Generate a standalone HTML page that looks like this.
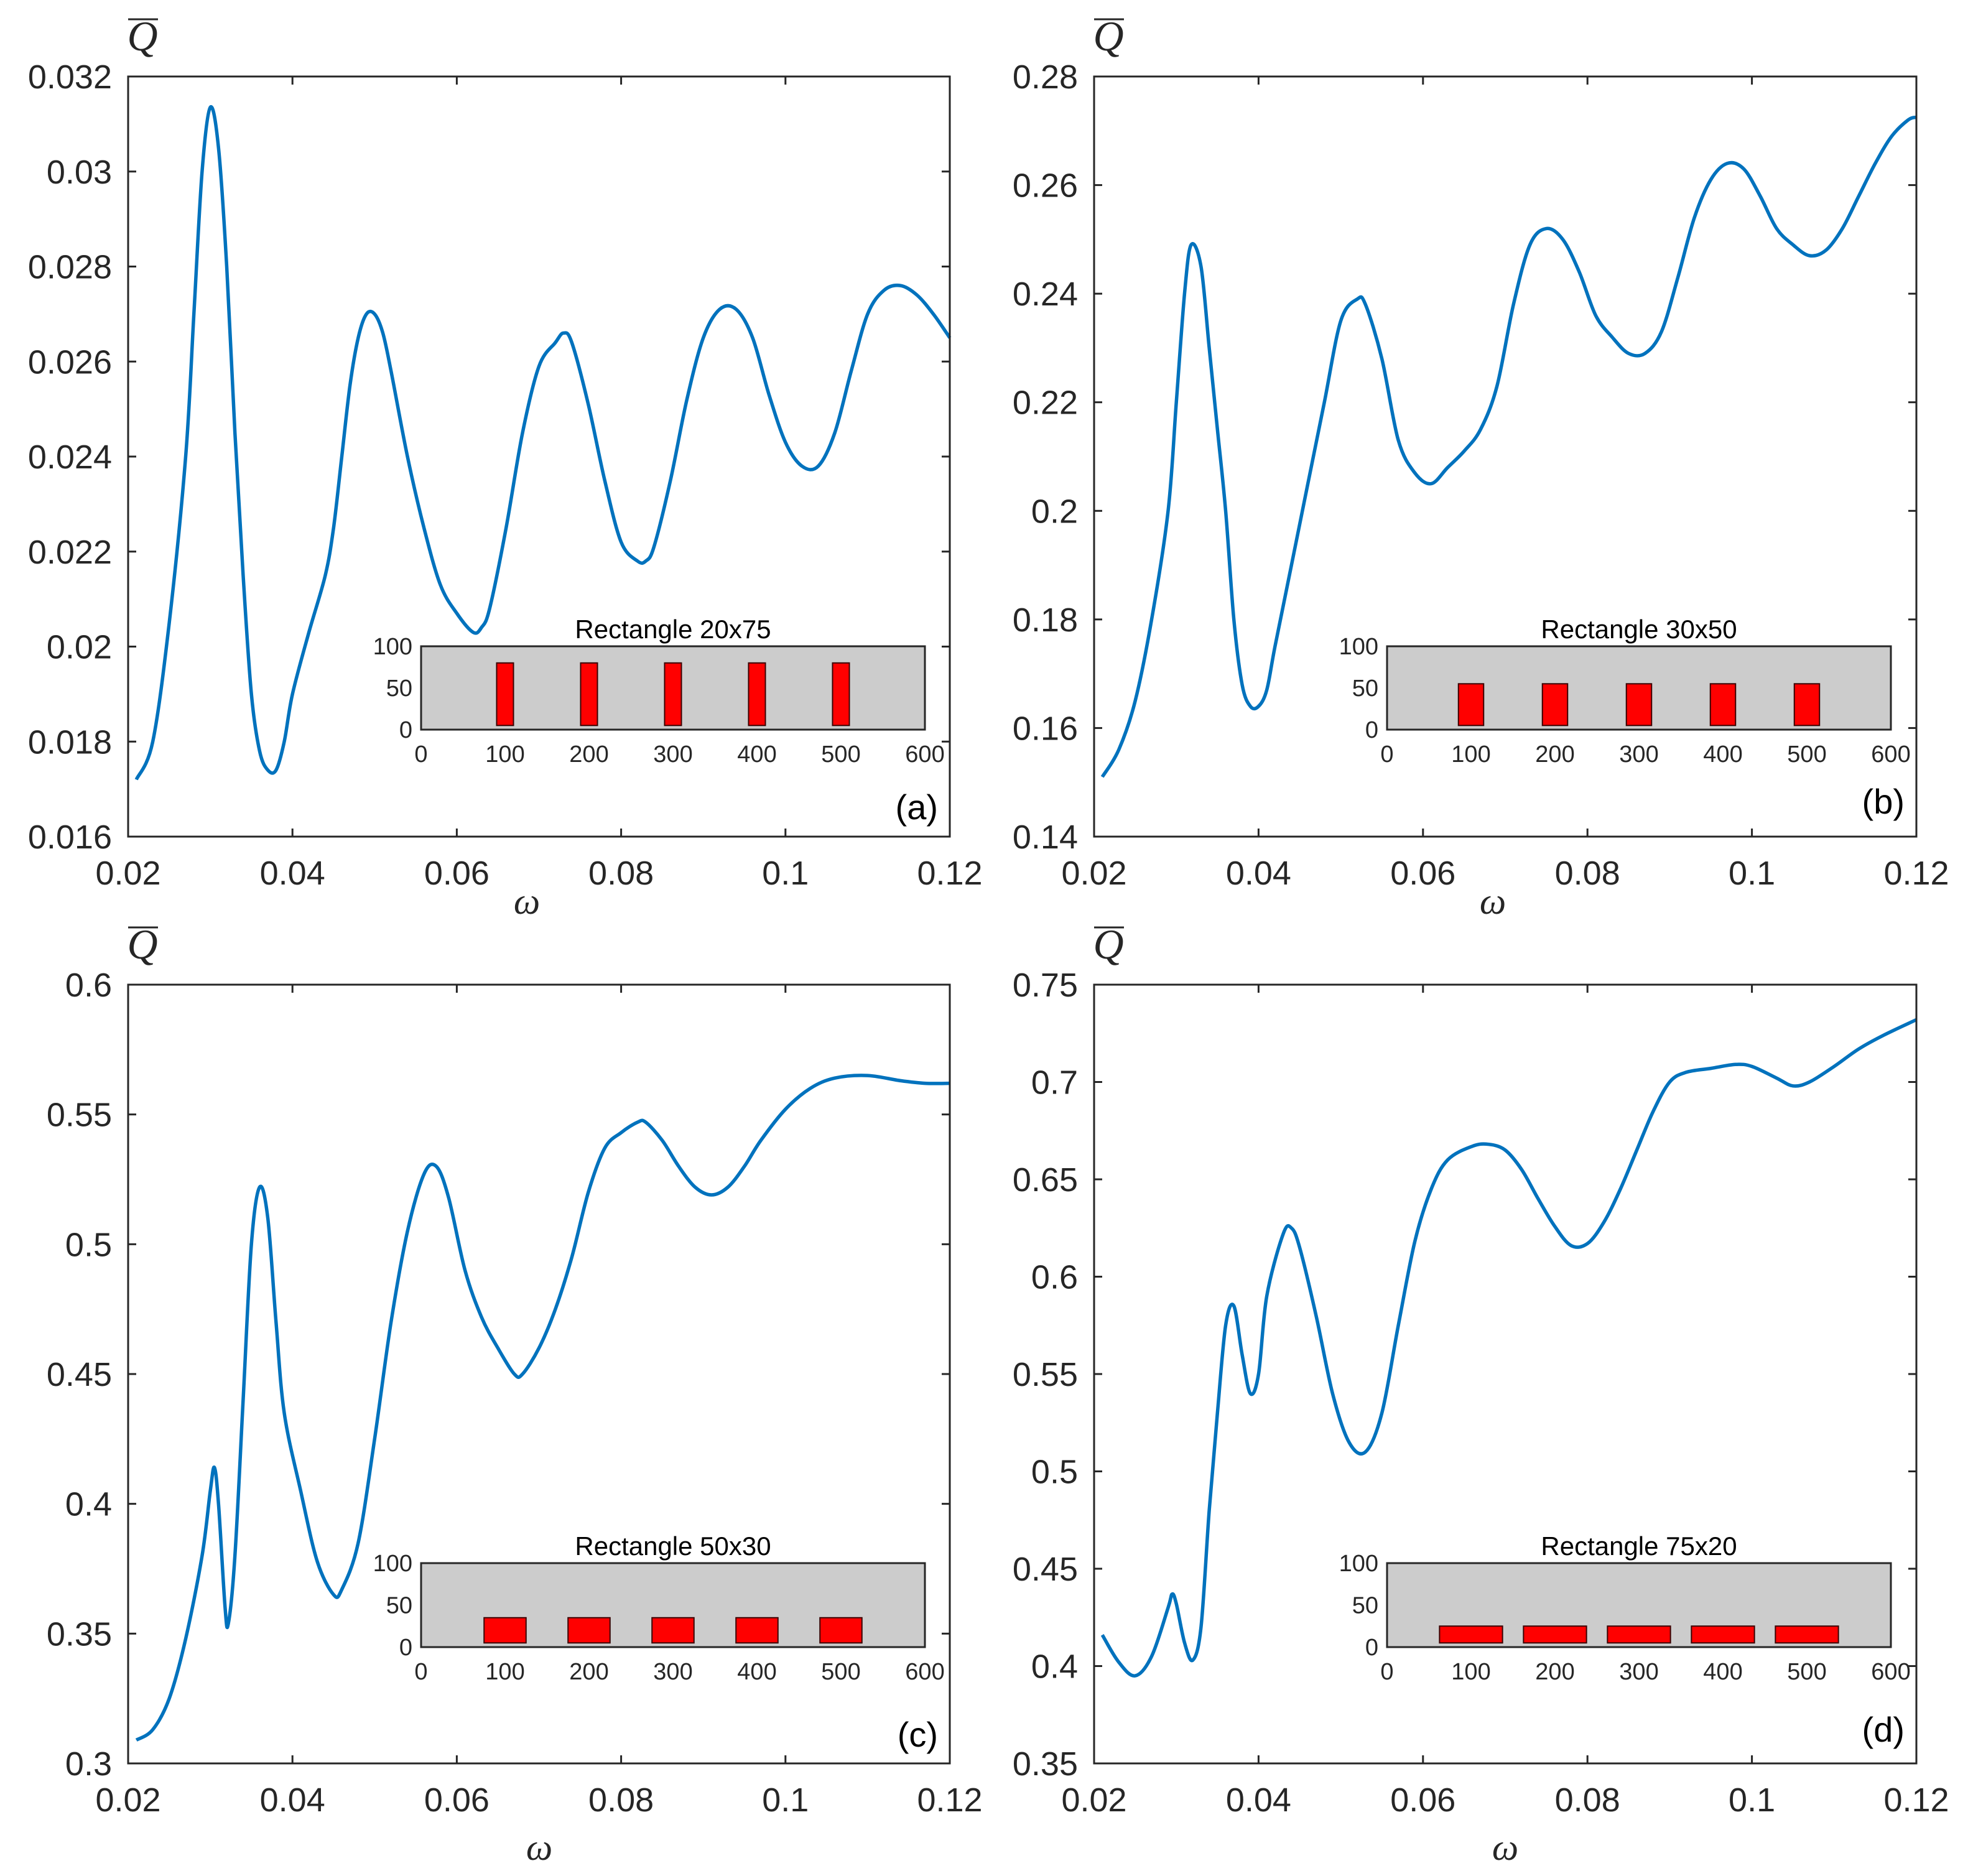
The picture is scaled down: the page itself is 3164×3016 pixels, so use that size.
<!DOCTYPE html>
<html><head><meta charset="utf-8"><style>
html,body{margin:0;padding:0;background:#fff;}
svg{display:block;font-family:"Liberation Sans",Arial,sans-serif;}
</style></head>
<body>
<svg id="fig" width="3164" height="3016" viewBox="0 0 3164 3016" xmlns="http://www.w3.org/2000/svg"></svg>
<script>
// ---- Panel (a) data ----
const omegaA=[0.021,0.023,0.025,0.027,0.028,0.029,0.030,0.031,0.032,0.033,0.034,0.035,0.036,0.037,0.038,0.039,0.040,0.042,0.044,0.045,0.046,0.047,0.048,0.049,0.050,0.051,0.052,0.054,0.056,0.058,0.060,0.062,0.063,0.064,0.066,0.068,0.070,0.072,0.073,0.074,0.076,0.078,0.080,0.082,0.083,0.084,0.086,0.088,0.090,0.092,0.094,0.096,0.098,0.100,0.102,0.104,0.106,0.108,0.110,0.112,0.114,0.116,0.118,0.120];
const qA=[0.0172,0.0180,0.0205,0.0240,0.0270,0.0300,0.03135,0.0305,0.0280,0.0245,0.0215,0.0190,0.0178,0.0174,0.0174,0.0180,0.0190,0.0203,0.0215,0.0225,0.0240,0.0255,0.0265,0.0270,0.0270,0.0266,0.0258,0.0240,0.0225,0.0213,0.0207,0.0203,0.0204,0.0208,0.0225,0.0245,0.0259,0.0264,0.0266,0.0264,0.0251,0.0235,0.0222,0.0218,0.0218,0.0221,0.0235,0.0252,0.0265,0.0271,0.0271,0.0265,0.0253,0.0243,0.0238,0.0238,0.0245,0.0258,0.0270,0.0275,0.0276,0.0274,0.0270,0.0265];
const yTicksA=[0.016,0.018,0.020,0.022,0.024,0.026,0.028,0.030,0.032];
const yLabelsA=["0.016","0.018","0.02","0.022","0.024","0.026","0.028","0.03","0.032"];
// ---- Panel (b) data ----
const omegaB=[0.021,0.023,0.025,0.027,0.029,0.030,0.031,0.0318,0.033,0.034,0.035,0.036,0.037,0.038,0.039,0.040,0.041,0.042,0.044,0.046,0.048,0.050,0.052,0.053,0.055,0.057,0.059,0.061,0.063,0.065,0.067,0.069,0.071,0.073,0.075,0.077,0.079,0.081,0.083,0.085,0.087,0.089,0.091,0.093,0.095,0.097,0.099,0.101,0.103,0.105,0.107,0.109,0.111,0.113,0.115,0.117,0.119,0.120];
const qB=[0.151,0.156,0.165,0.180,0.200,0.220,0.240,0.249,0.245,0.230,0.215,0.200,0.180,0.168,0.164,0.164,0.167,0.175,0.190,0.205,0.220,0.235,0.239,0.238,0.228,0.213,0.207,0.205,0.208,0.211,0.215,0.223,0.238,0.249,0.252,0.250,0.244,0.236,0.232,0.229,0.229,0.233,0.243,0.254,0.261,0.264,0.263,0.258,0.252,0.249,0.247,0.248,0.252,0.258,0.264,0.269,0.272,0.2725];
const yTicksB=[0.14,0.16,0.18,0.20,0.22,0.24,0.26,0.28];
const yLabelsB=["0.14","0.16","0.18","0.2","0.22","0.24","0.26","0.28"];
// ---- Panel (c) data ----
const omegaC=[0.021,0.023,0.025,0.027,0.029,0.030,0.0305,0.031,0.0318,0.0322,0.033,0.034,0.035,0.036,0.037,0.038,0.039,0.041,0.043,0.045,0.046,0.048,0.050,0.052,0.054,0.056,0.0575,0.059,0.061,0.063,0.065,0.067,0.068,0.070,0.072,0.074,0.076,0.078,0.080,0.082,0.083,0.085,0.087,0.089,0.091,0.093,0.095,0.097,0.100,0.103,0.106,0.110,0.114,0.117,0.120];
const qC=[0.309,0.313,0.325,0.348,0.380,0.405,0.414,0.400,0.360,0.354,0.380,0.440,0.500,0.522,0.510,0.470,0.435,0.405,0.378,0.365,0.367,0.385,0.425,0.470,0.505,0.527,0.530,0.518,0.490,0.472,0.460,0.450,0.450,0.460,0.475,0.495,0.520,0.537,0.543,0.547,0.547,0.540,0.530,0.522,0.519,0.522,0.530,0.540,0.552,0.560,0.564,0.565,0.563,0.562,0.562];
const yTicksC=[0.30,0.35,0.40,0.45,0.50,0.55,0.60];
const yLabelsC=["0.3","0.35","0.4","0.45","0.5","0.55","0.6"];
// ---- Panel (d) data ----
const omegaD=[0.021,0.023,0.025,0.027,0.029,0.0295,0.030,0.031,0.032,0.033,0.034,0.035,0.036,0.037,0.038,0.039,0.040,0.041,0.043,0.044,0.045,0.047,0.049,0.051,0.053,0.055,0.057,0.059,0.061,0.063,0.066,0.068,0.070,0.072,0.074,0.076,0.078,0.080,0.082,0.084,0.086,0.088,0.090,0.092,0.095,0.098,0.100,0.103,0.105,0.107,0.110,0.113,0.116,0.120];
const qD=[0.416,0.402,0.395,0.405,0.430,0.437,0.432,0.412,0.403,0.420,0.480,0.530,0.575,0.585,0.560,0.540,0.550,0.590,0.622,0.625,0.615,0.580,0.540,0.515,0.510,0.530,0.575,0.618,0.645,0.660,0.667,0.668,0.665,0.655,0.640,0.626,0.616,0.617,0.628,0.645,0.665,0.685,0.700,0.705,0.707,0.709,0.708,0.702,0.698,0.700,0.708,0.717,0.724,0.732];
const yTicksD=[0.35,0.40,0.45,0.50,0.55,0.60,0.65,0.70,0.75];
const yLabelsD=["0.35","0.4","0.45","0.5","0.55","0.6","0.65","0.7","0.75"];
// ---- shared x axis ----
const xTicks=[0.02,0.04,0.06,0.08,0.10,0.12];
const xLabels=["0.02","0.04","0.06","0.08","0.1","0.12"];
// ---- inset data ----
const insetCenters=[100,200,300,400,500];
const insetXTicks=[0,100,200,300,400,500,600];
const insetYTicks=[0,50,100];
const rectW=[20,30,50,75];
const rectH=[75,50,30,20];

const NS="http://www.w3.org/2000/svg";
const svg=document.getElementById('fig');
function el(tag,attrs,parent,text){const e=document.createElementNS(NS,tag);for(const k in attrs)e.setAttribute(k,attrs[k]);if(text!==undefined)e.textContent=text;(parent||svg).appendChild(e);return e;}

function smoothPath(pts){
  let d=`M${pts[0][0].toFixed(1)},${pts[0][1].toFixed(1)}`;
  for(let i=0;i<pts.length-1;i++){
    const p0=pts[Math.max(0,i-1)],p1=pts[i],p2=pts[i+1],p3=pts[Math.min(pts.length-1,i+2)];
    const c1=[p1[0]+(p2[0]-p0[0])/6,p1[1]+(p2[1]-p0[1])/6];
    const c2=[p2[0]-(p3[0]-p1[0])/6,p2[1]-(p3[1]-p1[1])/6];
    d+=`C${c1[0].toFixed(1)},${c1[1].toFixed(1)} ${c2[0].toFixed(1)},${c2[1].toFixed(1)} ${p2[0].toFixed(1)},${p2[1].toFixed(1)}`;
  }
  return d;
}

function panel(cfg){
  const g=el('g',{});
  
  
  const {L,R,T,B,ymin,ymax}=cfg;
  const sx=v=>L+(v-0.02)/(0.12-0.02)*(R-L);
  const sy=v=>B-(v-ymin)/(ymax-ymin)*(B-T);
  const pts=cfg.xs.map((x,i)=>[sx(x),sy(cfg.ys[i])]);
  const cp=el('path',{d:smoothPath(pts),fill:'none',stroke:'#0072BD','stroke-width':5.5,'stroke-linejoin':'round'},g);
  
  
  const bx=el('rect',{x:L,y:T,width:R-L,height:B-T,fill:'none',stroke:'#262626','stroke-width':3},g);
  
  
  cfg.yt.forEach((v,i)=>{
    const y=sy(v);
    el('line',{x1:L,y1:y,x2:L+13,y2:y,stroke:'#262626','stroke-width':3},g);
    el('line',{x1:R,y1:y,x2:R-13,y2:y,stroke:'#262626','stroke-width':3},g);
    const t=el('text',{x:L-26,y:y+19,'text-anchor':'end','font-size':54,fill:'#262626'},g,cfg.yl[i]);
    
    
  });
  xTicks.forEach((v,i)=>{
    const x=sx(v);
    el('line',{x1:x,y1:B,x2:x,y2:B-13,stroke:'#262626','stroke-width':3},g);
    el('line',{x1:x,y1:T,x2:x,y2:T+13,stroke:'#262626','stroke-width':3},g);
    const t=el('text',{x:x,y:B+77,'text-anchor':'middle','font-size':54,fill:'#262626'},g,xLabels[i]);
    
    
  });
  const yt=el('text',{x:L+23,y:T-42,'text-anchor':'middle','font-size':68,'font-style':'italic','font-family':'"Liberation Serif",serif',fill:'#262626'},g,'Q');
  
  
  el('line',{x1:L,y1:T-92,x2:L+48,y2:T-92,stroke:'#262626','stroke-width':3},g);
  const xt=el('text',{x:cfg.wx,y:B+cfg.wy,'text-anchor':'middle','font-size':60,'font-style':'italic','font-family':'"Liberation Serif",serif',fill:'#262626'},g,'ω');
  
  
  const pl=el('text',{x:R-19,y:cfg.labY+20,'text-anchor':'end','font-size':56,fill:'#000'},g,'('+cfg.letter+')');
  
  
  const ig=el('g',{},g);
  
  
  const iL=L+471,iR=L+1281,iT=cfg.iT,iB=cfg.iB;
  const ix=v=>iL+v/600*(iR-iL);
  const iy=v=>iB-v/100*(iB-iT);
  el('rect',{x:iL,y:iT,width:iR-iL,height:iB-iT,fill:'#CCCCCC',stroke:'#262626','stroke-width':3},ig);
  insetCenters.forEach(c=>{
    const w=rectW[cfg.idx],h=rectH[cfg.idx];
    const r=el('rect',{x:ix(c-w/2),y:iy(5+h),width:ix(c+w/2)-ix(c-w/2),height:iy(5)-iy(5+h),fill:'#FF0000',stroke:'#3a0000','stroke-width':2},ig);
    
    
  });
  insetXTicks.forEach(v=>{el('text',{x:ix(v),y:iB+52,'text-anchor':'middle','font-size':38,fill:'#262626'},ig,String(v));});
  insetYTicks.forEach(v=>{el('text',{x:iL-14,y:iy(v)+13,'text-anchor':'end','font-size':38,fill:'#262626'},ig,String(v));});
  const it=el('text',{x:(iL+iR)/2,y:iT-13,'text-anchor':'middle','font-size':42,fill:'#000'},ig,cfg.title);
  
  
}

panel({letter:'a',idx:0,L:206,R:1527,T:123,B:1345,ymin:0.016,ymax:0.032,xs:omegaA,ys:qA,yt:yTicksA,yl:yLabelsA,wx:847,wy:124,labY:1297,iT:1039,iB:1173,title:'Rectangle 20x75'});
panel({letter:'b',idx:1,L:1759,R:3081,T:123,B:1345,ymin:0.14,ymax:0.28,xs:omegaB,ys:qB,yt:yTicksB,yl:yLabelsB,wx:2400,wy:124,labY:1288,iT:1039,iB:1173,title:'Rectangle 30x50'});
panel({letter:'c',idx:2,L:206,R:1527,T:1583,B:2835,ymin:0.30,ymax:0.60,xs:omegaC,ys:qC,yt:yTicksC,yl:yLabelsC,wx:867,wy:155,labY:2788,iT:2513,iB:2648,title:'Rectangle 50x30'});
panel({letter:'d',idx:3,L:1759,R:3081,T:1583,B:2835,ymin:0.35,ymax:0.75,xs:omegaD,ys:qD,yt:yTicksD,yl:yLabelsD,wx:2420,wy:155,labY:2780,iT:2513,iB:2648,title:'Rectangle 75x20'});
</script>
</body></html>
